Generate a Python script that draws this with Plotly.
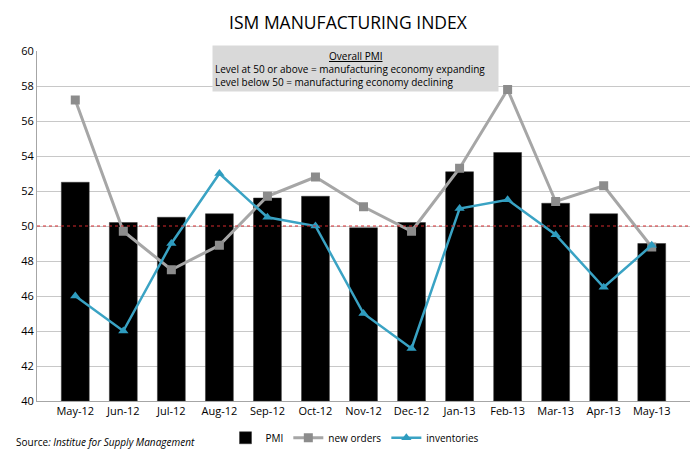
import plotly.graph_objects as go

months = ["May-12","Jun-12","Jul-12","Aug-12","Sep-12","Oct-12","Nov-12","Dec-12","Jan-13","Feb-13","Mar-13","Apr-13","May-13"]
pmi = [52.5, 50.2, 50.5, 50.7, 51.6, 51.7, 49.9, 50.2, 53.1, 54.2, 51.3, 50.7, 49.0]
new_orders = [57.2, 49.7, 47.5, 48.9, 51.7, 52.8, 51.1, 49.7, 53.3, 57.8, 51.4, 52.3, 48.8]
inventories = [46.0, 44.0, 49.0, 53.0, 50.5, 50.0, 45.0, 43.0, 51.0, 51.5, 49.5, 46.5, 48.9]
y_ticks = [40, 42, 44, 46, 48, 50, 52, 54, 56, 58, 60]
threshold = 50

FONT = "Open Sans"

fig = go.Figure()
fig.add_trace(go.Bar(x=months, y=[v - 40 for v in pmi], base=40, name="PMI",
                     marker=dict(color="black", line=dict(color="#333333", width=0.5))))
fig.add_trace(go.Scatter(x=months, y=new_orders, name="new orders", mode="lines+markers",
                         line=dict(color="#a6a6a6", width=3),
                         marker=dict(symbol="square", size=9, color="#8c8c8c")))
fig.add_trace(go.Scatter(x=months, y=inventories, name="inventories", mode="lines+markers",
                         line=dict(color="#3aa3c4", width=2.5),
                         marker=dict(symbol="triangle-up", size=9, color="#2e9cbf")))

fig.add_shape(type="line", xref="paper", x0=0, x1=1, yref="y", y0=threshold, y1=threshold,
              line=dict(color="#d42a2f", width=1, dash="dot"), layer="above")

# info box
fig.add_annotation(xref="paper", yref="paper", x=0.488, y=1.017, xanchor="center", yanchor="top",
                   text="&nbsp;<br>Level at 50 or above = manufacturing economy expanding<br>Level below 50 = manufacturing economy declining",
                   showarrow=False, align="left", bgcolor="#d9d9d9", width=281, height=41, borderpad=2,
                   font=dict(family=FONT, size=10, color="black"))
fig.add_annotation(xref="paper", yref="paper", x=0.488, y=1.012, xanchor="center", yanchor="top",
                   text="<u>Overall PMI</u>", showarrow=False, align="center",
                   font=dict(family=FONT, size=10, color="black"))

fig.add_annotation(xref="paper", yref="paper", x=-0.035, y=-0.116, xanchor="left", yanchor="middle",
                   text="Source<i>: Institue for Supply Management</i>", showarrow=False,
                   font=dict(family=FONT, size=10, color="black"))

fig.update_layout(
    width=696, height=450,
    margin=dict(l=37, r=6, t=51, b=49, autoexpand=False),
    paper_bgcolor="white", plot_bgcolor="white",
    title=dict(text="ISM MANUFACTURING INDEX", x=0.5, xanchor="center", y=0.95, yanchor="middle",
               font=dict(family=FONT, size=17.5, color="black")),
    bargap=0.42,
    legend=dict(orientation="h", x=0.487, xanchor="center", y=-0.105, yanchor="middle",
                font=dict(family=FONT, size=10, color="black"), itemwidth=30,
                traceorder="normal", tracegroupgap=0),
    xaxis=dict(showgrid=False, showline=True, linecolor="#a6a6a6", ticks="",
               tickfont=dict(family=FONT, size=11, color="black")),
    yaxis=dict(range=[40, 60], tickvals=y_ticks, showgrid=True, gridcolor="#c8c8c8", gridwidth=1,
               showline=True, linecolor="#a6a6a6", ticks="", zeroline=False,
               tickfont=dict(family=FONT, size=11, color="black")),
)

fig.write_html("out.html", config={"displayModeBar": False},
               post_script="document.body.style.margin='0';")
